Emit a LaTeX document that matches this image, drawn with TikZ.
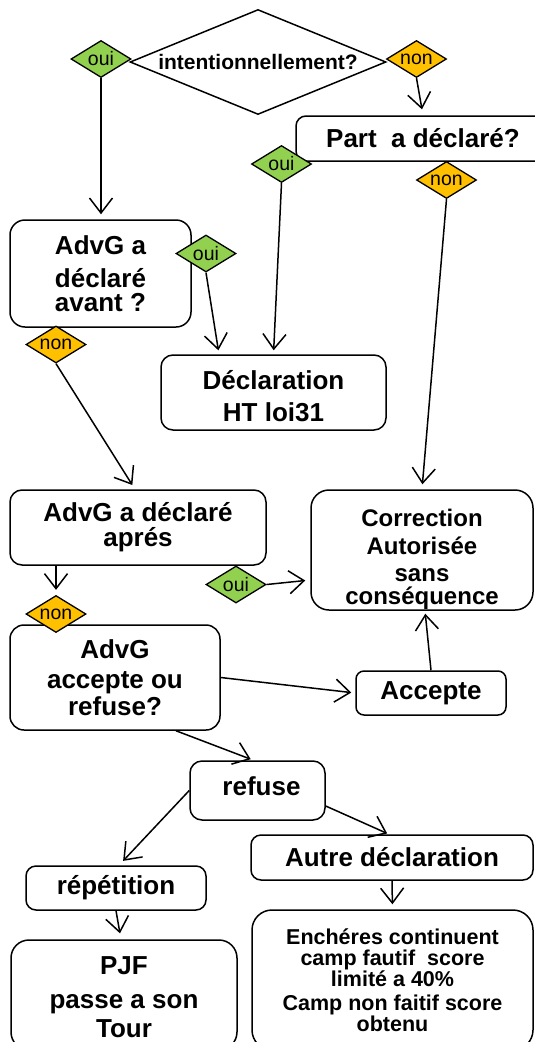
\documentclass[tikz,border=0pt]{standalone}
\usepackage{fontspec}
\setmainfont{Liberation Sans}
\usetikzlibrary{shapes.geometric,arrows.meta}
\definecolor{ouig}{HTML}{92D050}
\definecolor{nono}{HTML}{FFC000}
\begin{document}
\begin{tikzpicture}[x=1pt,y=-1pt,
  box/.style={draw, line width=1.5pt, rounded corners=12pt, align=center, inner sep=0pt, fill=white,
    font=\bfseries\fontsize{26}{30}\selectfont},
  ouid/.style={diamond, draw, line width=1.3pt, fill=ouig, minimum width=60pt, minimum height=37pt,
    inner sep=0pt, font=\fontsize{19.5}{20}\selectfont},
  nond/.style={ouid, fill=nono},
  conn/.style={-{Straight Barb[length=15pt,width=23pt]}, line width=1.5pt},
]
\useasboundingbox (0,0) rectangle (535,1042);
\fill[white] (0,0) rectangle (535,1042);
\clip (0,0) rectangle (535,1042);

% boxes
\node[diamond, draw, line width=1.5pt, minimum width=256pt, minimum height=105pt, inner sep=0pt,
  font=\bfseries\fontsize{21}{24}\selectfont] (intent) at (258,62) {\makebox[0pt]{intentionnellement?}};
\node[box, minimum width=254pt, minimum height=45pt, rounded corners=10pt] (part) at (423,138.5) {Part~ a déclaré?};
\node[box, minimum width=181pt, minimum height=107pt, rounded corners=15pt] (avant) at (100.5,273.5) {AdvG a\\[3pt]déclaré\\[-6pt]avant ?};
\node[box, minimum width=225pt, minimum height=75pt] (decl) at (273.5,392.5) {\rule{0pt}{25.5pt}Déclaration\\[2pt]HT loi31};
\node[box, minimum width=256pt, minimum height=75pt] (apres) at (138,527.5) {AdvG a déclaré\\[-5pt]aprés};
\node[box, minimum width=222pt, minimum height=120pt, rounded corners=18pt,
  font=\bfseries\fontsize{24}{27}\selectfont] (corr) at (422,550) {\rule{0pt}{35pt}Correction\\[1pt]Autorisée\\sans\\[-4pt]conséquence};
\node[box, minimum width=210pt, minimum height=105pt, rounded corners=14pt] (acc) at (115,677.5) {AdvG\\accepte ou\\[-3pt]refuse?};
\node[box, minimum width=150pt, minimum height=44pt, rounded corners=8pt] (accept) at (431,693) {Accepte};
\node[box, minimum width=135pt, minimum height=59pt] (refuse) at (257.5,790.5) {\hspace*{8pt}refuse\rule[-8pt]{0pt}{8pt}};
\node[box, minimum width=180pt, minimum height=44pt, rounded corners=10pt] (rep) at (116,888) {répétition};
\node[box, minimum width=226pt, minimum height=110pt, rounded corners=18pt] (pjf) at (124,995) {\rule{0pt}{23pt}PJF\\[4pt]passe a son\\[-1pt]Tour};
\node[box, minimum width=282pt, minimum height=45pt, rounded corners=10pt] (autre) at (392,857.5) {Autre déclaration};
\node[box, minimum width=281pt, minimum height=140pt, rounded corners=20pt,
  font=\bfseries\fontsize{21.5}{21}\selectfont] (ench) at (392.5,980) {Enchéres continuent\\camp fautif~ score\\limité a 40\%\\[3pt]Camp non faitif score\\obtenu};

% small diamonds
\node[ouid] (oui1) at (101,59) {\makebox[0pt]{oui}};
\node[nond] (non1) at (416.5,59) {\makebox[0pt]{non}};
\node[ouid] (oui2) at (281.5,164) {\makebox[0pt]{oui}};
\node[nond] (non2) at (446.5,180) {\makebox[0pt]{non}};
\node[ouid] (oui3) at (206,253.5) {\makebox[0pt]{oui}};
\node[nond] (non3) at (56,344.5) {\makebox[0pt]{non}};
\node[ouid] (oui5) at (236,584.5) {\makebox[0pt]{oui}};
\node[nond] (non4) at (56,614) {\makebox[0pt]{non}};

% connectors
\draw[conn, shorten >=5pt] (oui1.south) -- (oui1.south |- avant.north);
\draw[conn, shorten >=6pt] (non1.south) -- (part.north);
\draw[conn, shorten >=4pt] (oui2.south) -- (decl.north);
\draw[conn, shorten >=5pt] (non2.south) -- (corr.north);
\draw[conn, shorten >=4pt] (oui3.south) -- ([xshift=-54.5pt]decl.north);
\draw[conn, shorten >=5pt] (non3.south) -- ([xshift=-3pt]apres.north);
\draw[conn, shorten >=5pt] (non4.north |- apres.south) -- (non4.north);
\draw[conn, shorten >=5pt] (oui5.east) -- ([yshift=-30pt]corr.west);
\draw[conn, shorten >=4pt] (acc.east) -- (accept.west);
\draw[conn, shorten >=3pt] (accept.north) -- ([xshift=3pt]corr.south);
\draw[conn, shorten >=3pt] ([xshift=61pt]acc.south) -- ([xshift=-4pt]refuse.north);
\draw[conn, shorten >=6pt] (refuse.west) -- ([xshift=3pt]rep.north);
\draw[conn, shorten >=2pt] ([yshift=-15.5pt]refuse.east) -- ([xshift=-3pt]autre.north);
\draw[conn, shorten >=6pt] (rep.south) -- ([xshift=-3pt]pjf.north);
\draw[conn, shorten >=5pt] (autre.south) -- (ench.north);
\end{tikzpicture}
\end{document}
